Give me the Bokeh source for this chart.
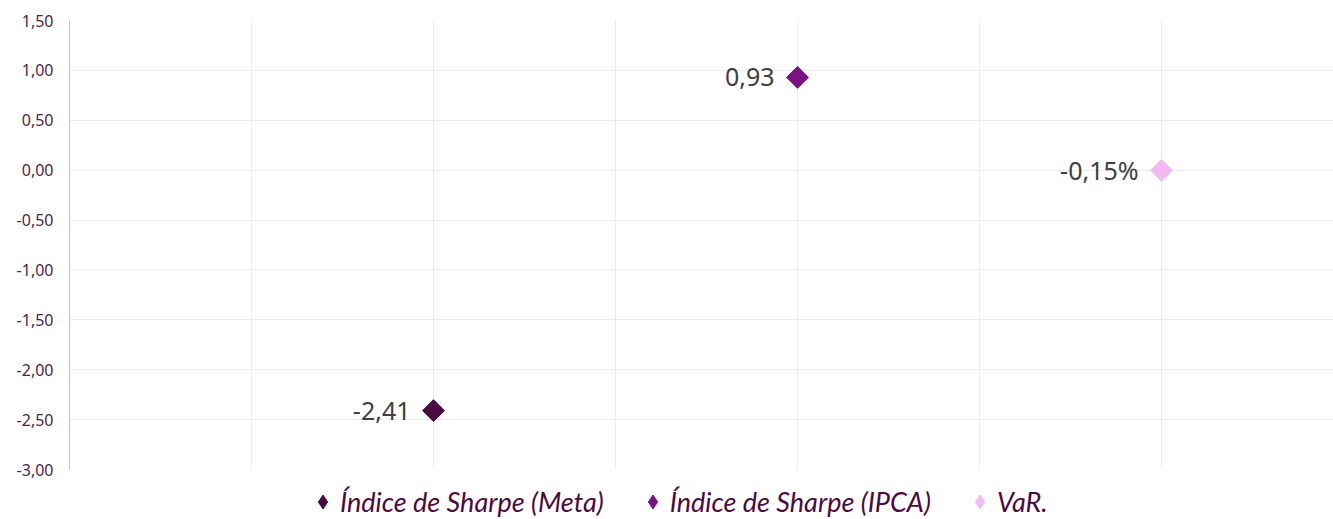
from bokeh.plotting import figure
from bokeh.layouts import column
from bokeh.models import Legend, LegendItem, FixedTicker, Range1d, ColumnDataSource
from bokeh.core.properties import value
from bokeh.embed import file_html
from bokeh.resources import INLINE

# ---- data ----
series_names = ["Índice de Sharpe (Meta)", "Índice de Sharpe (IPCA)", "VaR."]
x_positions = [2, 4, 6]
y_values = [-2.41, 0.93, -0.0015]
point_labels = ["-2,41", "0,93", "-0,15%"]
colors = ["#4b0a42", "#7b1283", "#f2baf2"]

y_ticks = [-3.0, -2.5, -2.0, -1.5, -1.0, -0.5, 0.0, 0.5, 1.0, 1.5]
y_tick_labels = ["-3,00", "-2,50", "-2,00", "-1,50", "-1,00", "-0,50", "0,00", "0,50", "1,00", "1,50"]
x_grid_ticks = [1, 2, 3, 4, 5, 6]

p = figure(width=1333, height=479, output_backend="svg", toolbar_location=None,
           x_range=Range1d(0, 6.945), y_range=Range1d(-3.0, 1.5),
           min_border_left=69, min_border_right=0, min_border_top=20, min_border_bottom=10)
p.outline_line_color = None
p.background_fill_color = "white"
p.border_fill_color = "white"

p.xaxis.visible = False

p.yaxis.ticker = FixedTicker(ticks=y_ticks)
p.yaxis.major_label_overrides = {t: l for t, l in zip(y_ticks, y_tick_labels)}
p.yaxis.axis_line_color = "#bfbfbf"
p.yaxis.major_tick_line_color = None
p.yaxis.minor_tick_line_color = None
p.yaxis.major_tick_out = 0
p.yaxis.major_tick_in = 0
p.yaxis.major_label_standoff = 16
p.yaxis.major_label_text_font = "Noto Sans"
p.yaxis.major_label_text_font_size = "16px"
p.yaxis.major_label_text_color = "#4f1f47"

# grids
p.xgrid.ticker = FixedTicker(ticks=x_grid_ticks)
p.ygrid.ticker = FixedTicker(ticks=y_ticks)
p.xgrid.grid_line_color = "#ececec"
p.ygrid.grid_line_color = "#ececec"

for i in range(len(series_names)):
    src = ColumnDataSource(dict(x=[x_positions[i]], y=[y_values[i]], lab=[point_labels[i]]))
    p.scatter("x", "y", source=src, marker="square", size=15.5, angle=45, angle_units="deg",
              fill_color=colors[i], line_color=colors[i])
    p.text("x", "y", text="lab", source=src, x_offset=-23, text_align="right", text_baseline="middle",
           text_font=value("Noto Sans"), text_font_size="25px", text_color="#404040")

# ---- legend strip below the chart ----
lg = figure(width=1333, height=40, output_backend="svg", toolbar_location=None,
            x_range=Range1d(0, 1), y_range=Range1d(0, 1),
            min_border_left=0, min_border_right=0, min_border_top=0, min_border_bottom=0)
lg.outline_line_color = None
lg.axis.visible = False
lg.grid.visible = False

items = []
for i in range(len(series_names)):
    lr = lg.scatter(x=[float("nan")], y=[float("nan")], marker="diamond",
                    fill_color=colors[i], line_color=colors[i])
    items.append(LegendItem(label=series_names[i], renderers=[lr]))

legend = Legend(items=items, orientation="horizontal", location=(236, 0),
                label_text_font="Lato", label_text_font_style="italic", label_text_font_size="27px",
                label_text_color="#4b0a42", border_line_alpha=0, background_fill_alpha=0,
                glyph_width=35, glyph_height=35, label_standoff=0, spacing=31, padding=0, margin=0)
lg.add_layout(legend, "center")

open("out.html", "w").write(file_html(column(p, lg, spacing=0), INLINE))
